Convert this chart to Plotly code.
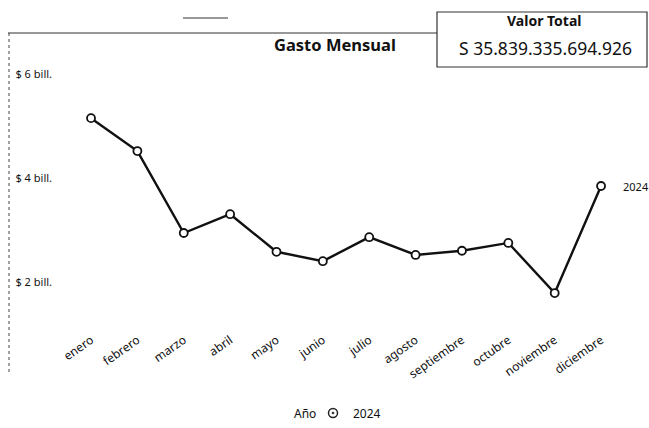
import plotly.graph_objects as go

# Monthly spending, in billones of pesos
meses = ["enero", "febrero", "marzo", "abril", "mayo", "junio", "julio",
         "agosto", "septiembre", "octubre", "noviembre", "diciembre"]
gasto_billones = [5.15, 4.52, 2.95, 3.31, 2.59, 2.41, 2.87, 2.53, 2.61, 2.76, 1.80, 3.85]
tick_vals = [2, 4, 6]
tick_text = ["$ 2 bill.", "$ 4 bill.", "$ 6 bill."]
serie = "2024"
valor_total = "S 35.839.335.694.926"

W, H = 649, 428
L, R, T, B = 60, 9, 60, 118
FONT = "Noto Sans"


def px(x, y):
    """Pixel position -> paper coordinates."""
    return (x - L) / (W - L - R), (H - B - y) / (H - T - B)


fig = go.Figure()
fig.add_trace(go.Scatter(
    x=meses, y=gasto_billones, mode="lines+markers", showlegend=False,
    line=dict(color="#111", width=2.4),
    marker=dict(symbol="circle", size=8, color="white",
                line=dict(color="#111", width=1.8)),
))
# legend entry for the year
fig.add_trace(go.Scatter(
    x=[None], y=[None], mode="markers", name=serie,
    marker=dict(symbol="circle-open-dot", size=9, color="#222",
                line=dict(color="#222", width=1.5)),
))

shapes = []
# header rule and left frame edge
x0, y0 = px(8, 33)
x1, y1 = px(437, 33)
shapes.append(dict(type="line", xref="paper", yref="paper", x0=x0, y0=y0, x1=x1, y1=y1,
                   line=dict(color="#333", width=1.2)))
x0, y0 = px(9, 33)
x1, y1 = px(9, 372)
shapes.append(dict(type="line", xref="paper", yref="paper", x0=x0, y0=y0, x1=x1, y1=y1,
                   line=dict(color="#444", width=1, dash="dot")))
# small mark above the header
x0, y0 = px(183, 18)
x1, y1 = px(228, 18)
shapes.append(dict(type="line", xref="paper", yref="paper", x0=x0, y0=y0, x1=x1, y1=y1,
                   line=dict(color="#333", width=1.2)))
# card with the total value
x0, y0 = px(437, 12)
x1, y1 = px(647, 67)
shapes.append(dict(type="rect", xref="paper", yref="paper", x0=x0, y0=y0, x1=x1, y1=y1,
                   line=dict(color="#333", width=1.2), fillcolor="rgba(0,0,0,0)"))

annotations = []


def label(text, x, y, size, anchor="center"):
    ax, ay = px(x, y)
    annotations.append(dict(text=text, xref="paper", yref="paper", x=ax, y=ay,
                            xanchor=anchor, yanchor="middle", showarrow=False,
                            font=dict(family=FONT, size=size, color="#111")))


label("<b>Gasto Mensual</b>", 335, 45, 16.5)
label("<b>Valor Total</b>", 544, 20, 14)
label(valor_total, 545, 48, 17.5)
label("Año", 292, 413, 12, anchor="left")

# series label beside the last point
annotations.append(dict(text=serie, x=meses[-1], y=gasto_billones[-1], xref="x", yref="y",
                        xanchor="left", yanchor="middle", xshift=20, showarrow=False,
                        font=dict(family=FONT, size=11, color="#111")))

fig.update_layout(
    width=W, height=H,
    margin=dict(l=L, r=R, t=T, b=B, autoexpand=False),
    paper_bgcolor="white", plot_bgcolor="white",
    font=dict(family=FONT, color="#111"),
    shapes=shapes, annotations=annotations,
    showlegend=True,
    legend=dict(orientation="h", xref="paper", x=px(313, 0)[0], xanchor="left",
                yref="container", y=1 - 413 / H, yanchor="middle",
                font=dict(size=12), itemwidth=30),
    xaxis=dict(range=[-0.669, 11.84], showgrid=False, showline=False, zeroline=False,
               tickangle=-35, tickfont=dict(size=12), ticks="", ticklabelstandoff=20,
               automargin=False),
    yaxis=dict(range=[1.475, 6.264], tickvals=tick_vals, ticktext=tick_text,
               showgrid=False, showline=False, zeroline=False, automargin=False,
               tickfont=dict(size=11), ticks="", ticklabelstandoff=7),
)

fig.write_html("out.html")
